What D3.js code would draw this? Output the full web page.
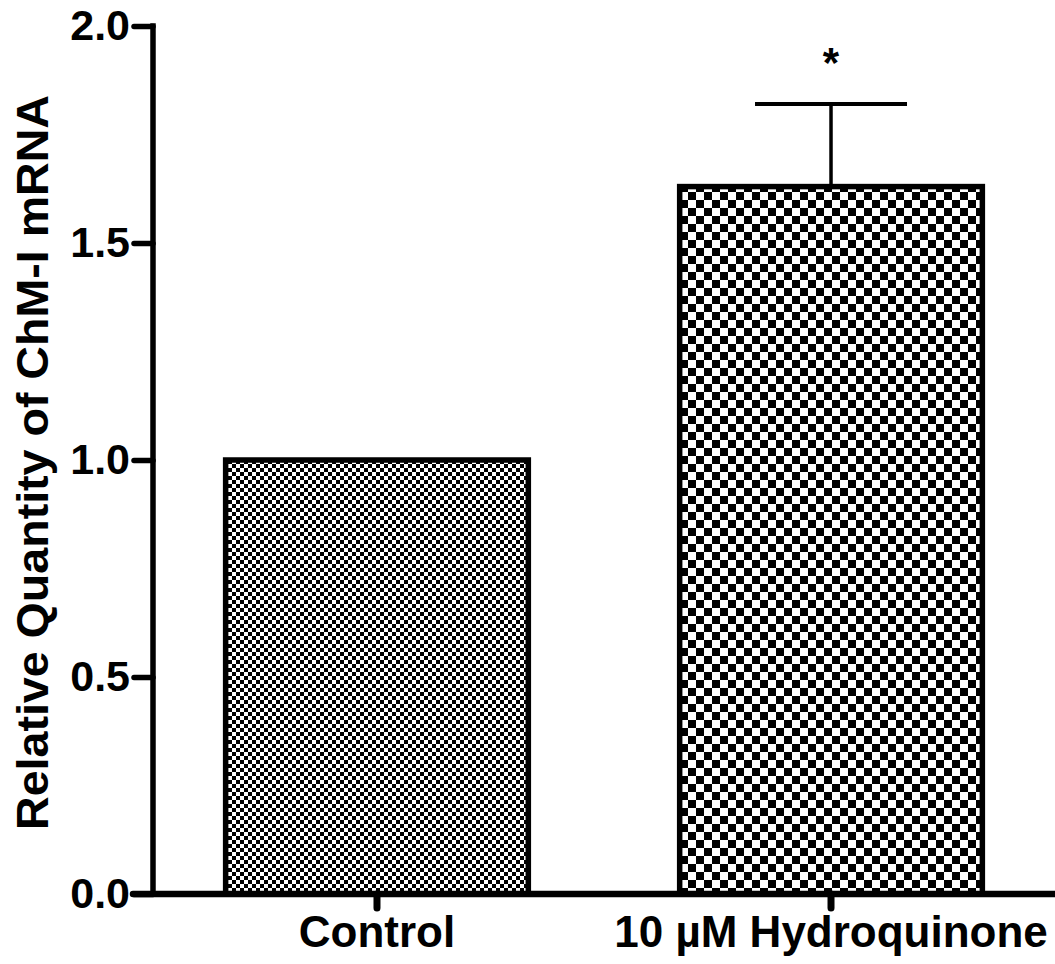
<!DOCTYPE html>
<html>
<head>
<meta charset="utf-8">
<script src="https://cdn.jsdelivr.net/npm/d3@7"></script>
<style>
  html, body { margin: 0; padding: 0; background: #fff; }
  svg { display: block; }
  text { font-family: "Liberation Sans", Arial, sans-serif; font-weight: bold; fill: #000; }
</style>
</head>
<body>
<svg id="chart" width="1055" height="964"></svg>
<script>
const categories = ["Control", "10 µM Hydroquinone"];
const values = [1.0, 1.63];
const errors = [0, 0.19];
const significance = ["", "*"];
const yTicks = [0.0, 0.5, 1.0, 1.5, 2.0];
const yLabel = "Relative Quantity of ChM-I mRNA";
const patterns = ["fineCheck", "coarseCheck"];

const svg = d3.select("#chart");
const W = 1055, H = 964;
const axisX = 153, axisY = 894, topY = 26;

const y = d3.scaleLinear().domain([0, 2]).range([axisY, topY]);
const x = d3.scaleBand().domain(categories).range([axisX, W]).paddingInner(1/3).paddingOuter(0.16);

// patterns
const defs = svg.append("defs");
function checker(id, s) {
  const p = defs.append("pattern").attr("id", id).attr("patternUnits", "userSpaceOnUse")
    .attr("width", 2 * s).attr("height", 2 * s);
  p.append("rect").attr("width", 2 * s).attr("height", 2 * s).attr("fill", "#fff");
  p.append("rect").attr("x", 0).attr("y", 0).attr("width", s).attr("height", s).attr("fill", "#000");
  p.append("rect").attr("x", s).attr("y", s).attr("width", s).attr("height", s).attr("fill", "#000");
}
checker("fineCheck", 4);
checker("coarseCheck", 8);

// bars
svg.selectAll("rect.bar").data(categories).enter().append("rect")
  .attr("class", "bar")
  .attr("x", d => x(d))
  .attr("y", (d, i) => y(values[i]))
  .attr("width", x.bandwidth())
  .attr("height", (d, i) => axisY - y(values[i]))
  .attr("fill", (d, i) => `url(#${patterns[i]})`)
  .attr("stroke", "#000").attr("stroke-width", 5.5);

// error bars
categories.forEach((c, i) => {
  if (!errors[i]) return;
  const cx = x(c) + x.bandwidth() / 2;
  svg.append("line").attr("x1", cx).attr("x2", cx)
    .attr("y1", y(values[i])).attr("y2", y(values[i] + errors[i]))
    .attr("stroke", "#000").attr("stroke-width", 3.5);
  svg.append("line").attr("x1", cx - 76).attr("x2", cx + 76)
    .attr("y1", y(values[i] + errors[i])).attr("y2", y(values[i] + errors[i]))
    .attr("stroke", "#000").attr("stroke-width", 4);
  svg.append("text").attr("x", cx).attr("y", y(values[i] + errors[i]) - 27)
    .attr("text-anchor", "middle").attr("font-size", 42).text(significance[i]);
});

// y axis
const yAxis = d3.axisLeft(y).tickValues(yTicks).tickFormat(d3.format(".1f")).tickSize(19).tickPadding(4);
const gy = svg.append("g").attr("transform", `translate(${axisX},0)`).call(yAxis);
gy.select(".domain").attr("d", `M0,${y(2)}V${axisY}`).attr("stroke", "#000").attr("stroke-width", 5.5).attr("stroke-linecap", "square");
gy.selectAll(".tick line").attr("stroke", "#000").attr("stroke-width", 5.5).attr("stroke-linecap", "round");
gy.selectAll(".tick text").attr("font-size", 43).attr("fill", "#000")
  .style("font-family", '"Liberation Sans", Arial, sans-serif').style("font-weight", "bold");

// x axis
const xAxis = d3.axisBottom(x).tickSize(14).tickPadding(8);
const gx = svg.append("g").attr("transform", `translate(0,${axisY})`).call(xAxis);
gx.select(".domain").attr("d", `M${axisX - 20},0H${W}`).attr("stroke", "#000").attr("stroke-width", 6.5).attr("stroke-linecap", "round");
gx.selectAll(".tick line").attr("stroke", "#000").attr("stroke-width", 7).attr("stroke-linecap", "round");
gx.selectAll(".tick text").attr("font-size", 44).attr("fill", "#000")
  .style("font-family", '"Liberation Sans", Arial, sans-serif').style("font-weight", "bold");

// y label
svg.append("text")
  .attr("transform", `translate(48,${(95 + 830) / 2}) rotate(-90)`)
  .attr("text-anchor", "middle").attr("font-size", 45)
  .attr("textLength", 735).attr("lengthAdjust", "spacingAndGlyphs")
  .text(yLabel);
</script>
</body>
</html>
